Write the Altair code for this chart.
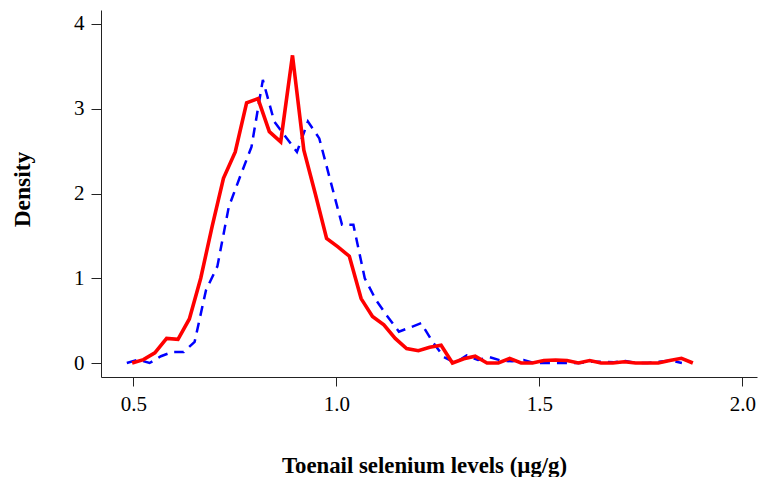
import altair as alt
import pandas as pd

# Frequency polygon x positions (µg/g) and densities
red_x = [0.497, 0.525, 0.553, 0.582, 0.610, 0.638, 0.666, 0.694, 0.722, 0.751,
         0.779, 0.807, 0.835, 0.863, 0.892, 0.920, 0.948, 0.976, 1.004, 1.032,
         1.061, 1.089, 1.117, 1.145, 1.173, 1.202, 1.230, 1.258, 1.286, 1.314,
         1.342, 1.371, 1.399, 1.427, 1.455, 1.483, 1.511, 1.540, 1.568, 1.596,
         1.624, 1.652, 1.681, 1.709, 1.737, 1.765, 1.793, 1.821, 1.850, 1.878]
red_y = [0.00, 0.04, 0.12, 0.29, 0.28, 0.52, 1.00, 1.61, 2.18, 2.49,
         3.07, 3.12, 2.73, 2.61, 3.63, 2.51, 2.00, 1.47, 1.37, 1.26,
         0.76, 0.55, 0.45, 0.29, 0.17, 0.145, 0.185, 0.21, 0.00, 0.05,
         0.08, 0.00, 0.00, 0.055, 0.00, 0.00, 0.03, 0.035, 0.03, 0.00,
         0.03, 0.00, 0.00, 0.015, 0.00, 0.00, 0.00, 0.03, 0.055, 0.00]

blue_x = [0.484, 0.512, 0.540, 0.568, 0.596, 0.624, 0.651, 0.679, 0.707, 0.735,
          0.763, 0.791, 0.819, 0.847, 0.875, 0.903, 0.930, 0.958, 0.986, 1.014,
          1.042, 1.070, 1.098, 1.126, 1.154, 1.182, 1.209, 1.237, 1.265, 1.293,
          1.321, 1.349, 1.377, 1.405, 1.433, 1.461, 1.488, 1.516, 1.544, 1.572,
          1.600, 1.628, 1.656, 1.684, 1.712, 1.740, 1.767, 1.795, 1.823, 1.851]
blue_y = [0.00, 0.04, 0.00, 0.08, 0.13, 0.13, 0.25, 0.86, 1.14, 1.84,
          2.20, 2.55, 3.34, 2.85, 2.67, 2.49, 2.85, 2.65, 2.14, 1.63,
          1.63, 1.00, 0.74, 0.55, 0.37, 0.42, 0.47, 0.25, 0.07, 0.00,
          0.09, 0.035, 0.07, 0.03, 0.02, 0.035, 0.00, 0.00, 0.00, 0.00,
          0.00, 0.015, 0.015, 0.01, 0.025, 0.00, 0.00, 0.015, 0.03, 0.00]

x_ticks = [0.5, 1.0, 1.5, 2.0]
y_ticks = [0, 1, 2, 3, 4]

red_df = pd.DataFrame({"x": red_x, "y": red_y})
blue_df = pd.DataFrame({"x": blue_x, "y": blue_y})

FONT = "Liberation Serif"

x_enc = alt.X(
    "x:Q",
    scale=alt.Scale(domain=[0.4204, 2.036], nice=False, zero=False),
    axis=alt.Axis(
        values=x_ticks, format=".1f", grid=False,
        title="Toenail selenium levels (µg/g)",
        titleFont=FONT, titleFontSize=22.8, titleFontWeight="bold", titleColor="black",
        titleX=323, titleY=95, titleAlign="center", titleBaseline="alphabetic",
        labelFont=FONT, labelFontSize=21, labelColor="black", labelPadding=7,
        tickSize=9, tickColor="#222222", domainColor="#222222",
        labelFlush=False,
    ),
)
y_enc = alt.Y(
    "y:Q",
    scale=alt.Scale(domain=[-0.165, 4.165], nice=False, zero=False),
    axis=alt.Axis(
        values=y_ticks, format="d", grid=False,
        title="Density",
        titleFont=FONT, titleFontSize=23.5, titleFontWeight="bold", titleColor="black",
        titleX=-79, titleY=179, titleAngle=270, titleAlign="center", titleBaseline="middle",
        labelFont=FONT, labelFontSize=21, labelColor="black", labelPadding=7,
        tickSize=10, tickColor="#222222", domainColor="#222222",
        labelFlush=False,
    ),
)

red = alt.Chart(red_df).mark_line(color="#ff0000", strokeWidth=3.6).encode(
    x=x_enc, y=y_enc, order="x:Q"
)
blue = alt.Chart(blue_df).mark_line(
    color="#0000ff", strokeWidth=2.5, strokeDash=[10, 7]
).encode(x=x_enc, y=y_enc, order="x:Q")

chart = (
    alt.layer(blue, red)
    .properties(
        width=656, height=367,
        autosize=alt.AutoSizeParams(type="none"),
        padding={"left": 93, "top": 2, "right": 3, "bottom": 100},
        background="white",
    )
    .configure_view(stroke=None)
)

chart.save("out.html", embed_options={"renderer": "svg", "actions": False})
